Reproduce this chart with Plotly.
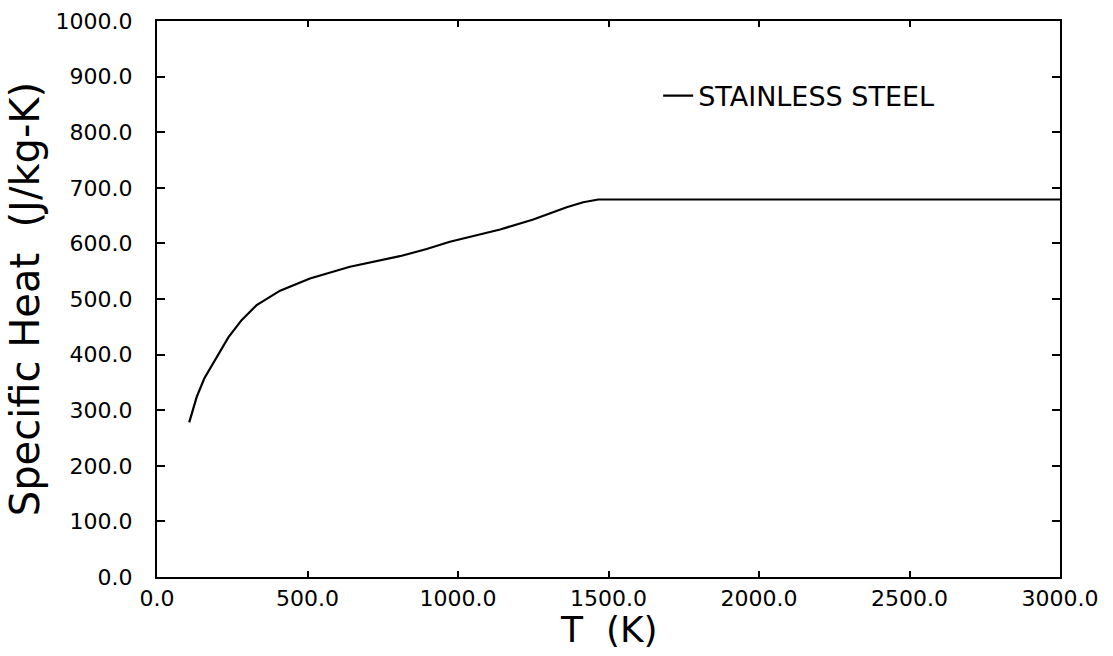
import plotly.graph_objects as go

# Data
temperature_K = [107, 132, 157, 198, 237, 281, 331, 409, 508, 641, 752, 807,
                 896, 973, 1140, 1250, 1361, 1416, 1466, 3000]
specific_heat = [278, 324, 357, 396, 431, 462, 489, 515, 537, 558, 570, 577,
                 590, 603, 625, 643, 665, 674, 679, 679]

x_ticks = [0, 500, 1000, 1500, 2000, 2500, 3000]
y_ticks = [0, 100, 200, 300, 400, 500, 600, 700, 800, 900, 1000]
series_name = "STAINLESS STEEL"
x_title = "T\u00a0\u00a0(K)"
y_title = "Specific\u00a0Heat\u00a0\u00a0(J/kg-K)"

FONT = "DejaVu Sans"
TOP, BOTTOM = 21, 79
PLOT_H = 656 - TOP - BOTTOM

fig = go.Figure()
fig.add_trace(go.Scatter(
    x=temperature_K, y=specific_heat, mode="lines", name=series_name,
    line=dict(color="black", width=2.2),
))

fig.update_layout(
    width=1113, height=656,
    margin=dict(l=157, r=53, t=TOP, b=BOTTOM),
    paper_bgcolor="white", plot_bgcolor="white",
    font=dict(family=FONT, color="black"),
    showlegend=True,
    legend=dict(
        x=0.555, y=0.865, xanchor="left", yanchor="middle",
        bgcolor="rgba(0,0,0,0)", borderwidth=0,
        font=dict(family=FONT, size=27, color="black"),
    ),
    annotations=[dict(
        text=x_title, xref="paper", yref="paper", x=0.5,
        y=-(629 - (656 - BOTTOM)) / PLOT_H,
        xanchor="center", yanchor="middle", showarrow=False,
        font=dict(family=FONT, size=36, color="black"),
    )],
)

fig.update_xaxes(
    range=[0, 3000], tickvals=x_ticks,
    ticktext=[f"{v:.1f}" for v in x_ticks],
    showgrid=False, zeroline=False, automargin=False,
    showline=True, linecolor="black", linewidth=2, mirror="ticks",
    ticks="inside", ticklen=6, tickwidth=1.5, tickcolor="black",
    tickfont=dict(family=FONT, size=22, color="black"),
    ticklabelstandoff=1,
)
fig.update_yaxes(
    range=[0, 1000], tickvals=y_ticks,
    ticktext=[f"{v:.1f}" for v in y_ticks],
    showgrid=False, zeroline=False, automargin=False,
    showline=True, linecolor="black", linewidth=2, mirror="ticks",
    ticks="inside", ticklen=8, tickwidth=1.5, tickcolor="black",
    tickfont=dict(family=FONT, size=22, color="black"),
    ticklabelstandoff=18,
    title=dict(text=y_title, font=dict(family=FONT, size=40, color="black"), standoff=4),
)

fig.write_html("out.html", config={"displayModeBar": False},
               post_script="document.body.style.margin='0';")
